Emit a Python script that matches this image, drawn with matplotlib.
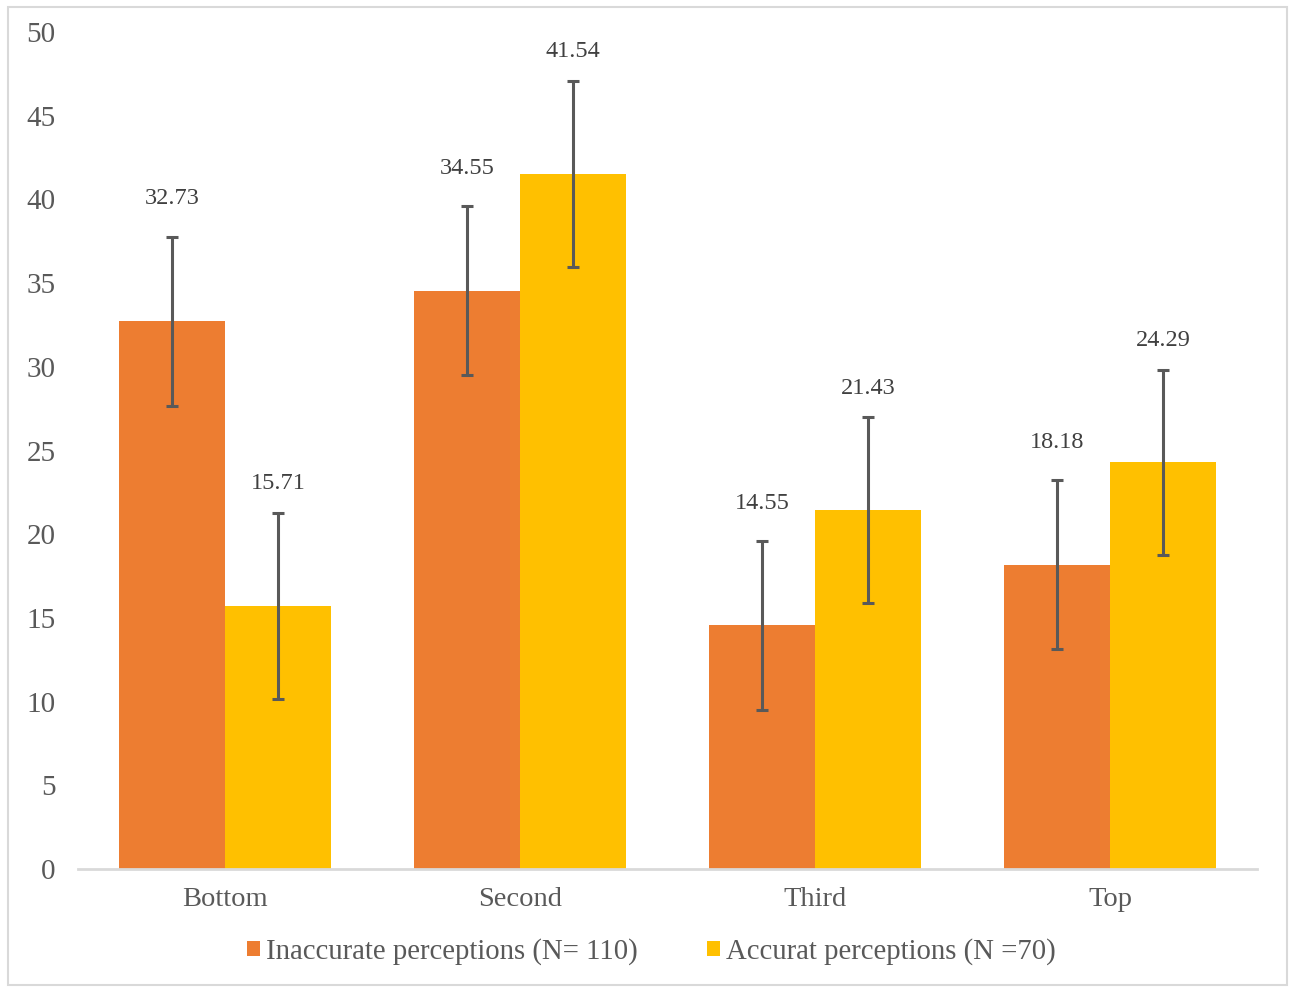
import matplotlib.pyplot as plt
import numpy as np
from matplotlib.patches import Rectangle

categories = ['Bottom', 'Second', 'Third', 'Top']
inaccurate = [32.73, 34.55, 14.55, 18.18]
accurate = [15.71, 41.54, 21.43, 24.29]
inaccurate_err = [5.05, 5.05, 5.05, 5.05]
accurate_err = [5.55, 5.55, 5.55, 5.55]
series_names = ['Inaccurate perceptions (N= 110)', 'Accurat perceptions (N =70)']

plt.rcParams['font.family'] = ['Liberation Serif', 'DejaVu Serif']
text_color = '#595959'

fig = plt.figure(figsize=(12.95, 9.89), dpi=100)
ax = fig.add_axes([0.060, 0.1213, 0.911, 0.8463])

x = np.arange(len(categories))
w = 0.36
err_kw = dict(ecolor='#595959', elinewidth=2.2, capsize=4.5, capthick=2.2)
b1 = ax.bar(x - w / 2, inaccurate, w, color='#ED7D31', yerr=inaccurate_err,
            error_kw=err_kw, label=series_names[0])
b2 = ax.bar(x + w / 2, accurate, w, color='#FFC000', yerr=accurate_err,
            error_kw=err_kw, label=series_names[1])

# value labels sit a fixed distance above each bar
for xs, vals in [(x - w / 2, inaccurate), (x + w / 2, accurate)]:
    for xi, v in zip(xs, vals):
        ax.text(xi, v + 7.3, f'{v:.2f}', ha='center', va='center',
                fontsize=17.5, color='#404040')

ax.set_xlim(-0.5, 3.5)
ax.set_ylim(0, 50)
ax.set_yticks(range(0, 51, 5))
ax.set_xticks(x)
ax.set_xticklabels(categories)
ax.tick_params(axis='y', length=0, pad=16, labelsize=21, labelcolor=text_color)
ax.tick_params(axis='x', length=0, pad=13, labelsize=20.5, labelcolor=text_color)
for s in ['top', 'right', 'left']:
    ax.spines[s].set_visible(False)
ax.spines['bottom'].set_color('#D9D9D9')
ax.spines['bottom'].set_linewidth(2)

leg = fig.legend(handles=[b1, b2], loc='center', bbox_to_anchor=(0.503, 0.038),
                 ncol=2, frameon=False, fontsize=20.7, handlelength=0.45,
                 handleheight=0.45, handletextpad=0.2, columnspacing=2.4)
for t in leg.get_texts():
    t.set_color(text_color)

fig.patches.append(Rectangle((8 / 1295, 4 / 989), 1279 / 1295, 978 / 989,
                             transform=fig.transFigure, fill=False,
                             edgecolor='#D9D9D9', linewidth=1.5))

fig.savefig('out.png', dpi=100)
